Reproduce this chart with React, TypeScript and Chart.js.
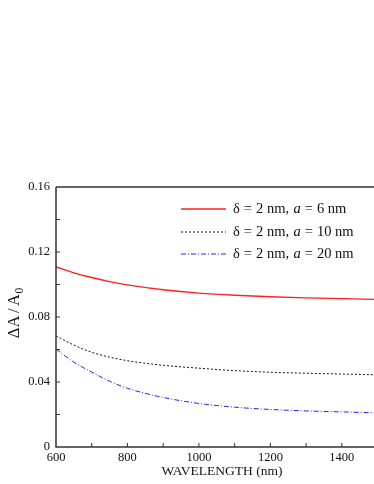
import React, { useEffect, useRef } from "react";
import { Chart, registerables } from "chart.js";

Chart.register(...registerables);

const wavelengths = [600, 650, 700, 750, 800, 900, 1000, 1100, 1200, 1300, 1400, 1500];
const seriesA6 = [0.1108, 0.1072, 0.1043, 0.1018, 0.0998, 0.0968, 0.0947, 0.0934, 0.0925, 0.0918, 0.0913, 0.0908];
const seriesA10 = [0.0684, 0.0627, 0.0583, 0.0553, 0.0531, 0.0503, 0.0485, 0.047, 0.046, 0.0454, 0.0449, 0.0444];
const seriesA20 = [0.0602, 0.0522, 0.0461, 0.0405, 0.0361, 0.0305, 0.0268, 0.0245, 0.0231, 0.0222, 0.0216, 0.021];
const xTickValues = [600, 700, 800, 900, 1000, 1100, 1200, 1300, 1400];
const yTickValues = [0, 0.02, 0.04, 0.06, 0.08, 0.1, 0.12, 0.14, 0.16];
const legendA = ["6", "10", "20"];
const xTitle = "WAVELENGTH (nm)";

const SERIF = "'Liberation Serif', 'Times New Roman', serif";

const axesPlugin = {
  id: "axesFrame",
  afterDatasetsDraw(chart: any) {
    const { ctx, chartArea } = chart;
    const { left, right, top, bottom } = chartArea;
    const xs = chart.scales.x;
    const ys = chart.scales.y;
    ctx.save();
    ctx.strokeStyle = "#333";
    ctx.lineWidth = 1.5;
    ctx.beginPath();
    ctx.moveTo(left, top);
    ctx.lineTo(right, top);
    ctx.moveTo(left, top);
    ctx.lineTo(left, bottom);
    ctx.lineTo(right, bottom);
    ctx.stroke();
    ctx.lineWidth = 1;
    ctx.beginPath();
    xs.ticks.forEach((t: any) => {
      const px = xs.getPixelForValue(t.value);
      if (px <= left + 1 || px >= right - 1) return;
      ctx.moveTo(px, bottom);
      ctx.lineTo(px, bottom - 4);
    });
    ys.ticks.forEach((t: any) => {
      const py = ys.getPixelForValue(t.value);
      if (py >= bottom - 1 || py <= top + 1) return;
      ctx.moveTo(left, py);
      ctx.lineTo(left + 4, py);
    });
    ctx.stroke();

    // x title
    ctx.fillStyle = "#111";
    ctx.font = `13.5px ${SERIF}`;
    ctx.textAlign = "center";
    ctx.textBaseline = "middle";
    ctx.fillText(xTitle, 222, 471);

    // y title with subscript
    ctx.save();
    ctx.translate(15, 313);
    ctx.rotate(-Math.PI / 2);
    const mainFont = `16.5px ${SERIF}`;
    const subFont = `11.5px ${SERIF}`;
    const pieces: [string, string, number, number][] = [
      ["\u0394A", mainFont, 0, 2.5],
      ["/", mainFont, 0, 2.5],
      ["A", mainFont, 0, 0.5],
      ["0", subFont, 4.5, 0],
    ];
    let total = 0;
    pieces.forEach(([s, f, , g]) => {
      ctx.font = f;
      total += ctx.measureText(s).width + g;
    });
    let px = -total / 2;
    ctx.textBaseline = "middle";
    ctx.textAlign = "left";
    pieces.forEach(([s, f, dy, g]) => {
      ctx.font = f;
      ctx.fillText(s, px, dy);
      px += ctx.measureText(s).width + g;
    });
    ctx.restore();
    ctx.restore();

    // legend
    ctx.save();
    const rows = [209, 232, 254];
    chart.data.datasets.forEach((ds: any, i: number) => {
      const y = rows[i];
      ctx.strokeStyle = ds.borderColor;
      ctx.lineWidth = ds.borderWidth;
      ctx.setLineDash(ds.borderDash || []);
      ctx.beginPath();
      ctx.moveTo(181, y);
      ctx.lineTo(226, y);
      ctx.stroke();
      ctx.setLineDash([]);
      ctx.fillStyle = "#111";
      ctx.textBaseline = "middle";
      ctx.textAlign = "left";
      let x = 233;
      const parts: [string, boolean, number][] = [
        ["\u03b4", false, 4],
        ["=", false, 4],
        ["2 nm,", false, 4.5],
        ["a", true, 4],
        ["=", false, 4],
        [legendA[i] + " nm", false, 0],
      ];
      parts.forEach(([s, it, gap]) => {
        ctx.font = `${it ? "italic " : ""}14.5px ${SERIF}`;
        ctx.fillText(s, x, y);
        x += ctx.measureText(s).width + gap;
      });
    });
    ctx.restore();
  },
};

export default function App() {
  const ref = useRef<HTMLCanvasElement | null>(null);
  useEffect(() => {
    if (!ref.current) return;
    const mk = (d: number[]) => wavelengths.map((x, i) => ({ x, y: d[i] }));
    const chart = new Chart(ref.current, {
      type: "line",
      data: {
        datasets: [
          { label: "a6", data: mk(seriesA6), borderColor: "#ff2020", borderWidth: 1.4, pointRadius: 0, cubicInterpolationMode: "monotone", fill: false },
          { label: "a10", data: mk(seriesA10), borderColor: "#111111", borderWidth: 1, borderDash: [2, 2], pointRadius: 0, cubicInterpolationMode: "monotone", fill: false },
          { label: "a20", data: mk(seriesA20), borderColor: "#2020ff", borderWidth: 1, borderDash: [5, 2, 1, 2], pointRadius: 0, cubicInterpolationMode: "monotone", fill: false },
        ],
      },
      options: {
        animation: false,
        responsive: false,
        devicePixelRatio: 1,
        layout: { padding: { top: 187, left: 0, right: 0, bottom: 0 } },
        plugins: { legend: { display: false }, tooltip: { enabled: false } },
        scales: {
          x: {
            type: "linear",
            min: 600,
            max: 1490,
            grid: { display: false, drawTicks: false },
            border: { display: false },
            afterBuildTicks: (s: any) => {
              s.ticks = xTickValues.map((v) => ({ value: v }));
            },
            afterFit: (s: any) => {
              s.height = 37;
            },
            ticks: {
              padding: 3,
              maxRotation: 0,
              minRotation: 0,
              autoSkip: false,
              color: "#111",
              font: { family: SERIF, size: 12.5 },
              callback: (v: any) => {
                const n = Math.round(Number(v));
                return n % 200 === 0 ? String(n) : "";
              },
            },
            title: { display: false },
          },
          y: {
            type: "linear",
            min: 0,
            max: 0.16,
            grid: { display: false, drawTicks: false },
            border: { display: false },
            afterBuildTicks: (s: any) => {
              s.ticks = yTickValues.map((v) => ({ value: v }));
            },
            afterFit: (s: any) => {
              s.width = 56;
            },
            ticks: {
              padding: 6,
              autoSkip: false,
              color: "#111",
              font: { family: SERIF, size: 12.5 },
              callback: (v: any) => {
                const n = Math.round(Number(v) * 100);
                if (n % 4 !== 0) return "";
                return n === 0 ? "0" : (n / 100).toFixed(2);
              },
            },
          },
        },
      },
      plugins: [axesPlugin],
    } as any);
    return () => chart.destroy();
  }, []);
  return (
    <div style={{ position: "absolute", left: 0, top: 0, width: 374, height: 484 }}>
      <canvas ref={ref} width={374} height={484} style={{ display: "block" }} />
    </div>
  );
}
